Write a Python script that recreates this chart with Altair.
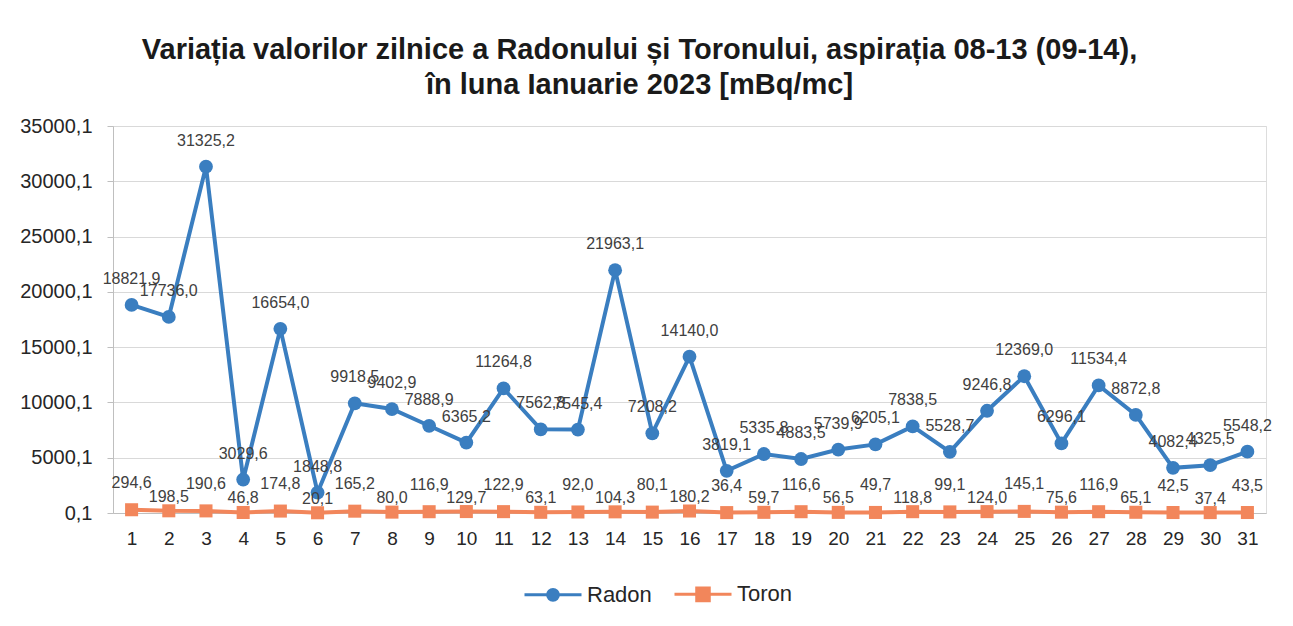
import altair as alt
import pandas as pd

days = list(range(1, 32))
radon = [18821.9, 17736.0, 31325.2, 3029.6, 16654.0, 1848.8, 9918.5, 9402.9, 7888.9, 6365.2,
         11264.8, 7562.8, 7545.4, 21963.1, 7208.2, 14140.0, 3819.1, 5335.8, 4883.5, 5739.9,
         6205.1, 7838.5, 5528.7, 9246.8, 12369.0, 6296.1, 11534.4, 8872.8, 4082.4, 4325.5, 5548.2]
toron = [294.6, 198.5, 190.6, 46.8, 174.8, 20.1, 165.2, 80.0, 116.9, 129.7,
         122.9, 63.1, 92.0, 104.3, 80.1, 180.2, 36.4, 59.7, 116.6, 56.5,
         49.7, 118.8, 99.1, 124.0, 145.1, 75.6, 116.9, 65.1, 42.5, 37.4, 43.5]
series_names = ["Radon", "Toron"]
colors = ["#3A7EC0", "#F2865B"]
y_ticks = [0.1, 5000.1, 10000.1, 15000.1, 20000.1, 25000.1, 30000.1, 35000.1]
title_lines = ["Variația valorilor zilnice a Radonului și Toronului, aspirația 08-13 (09-14),",
               "în luna Ianuarie 2023 [mBq/mc]"]

df = pd.DataFrame({
    "day": days * 2,
    "value": radon + toron,
    "series": ["Radon"] * len(days) + ["Toron"] * len(days),
})

FONT = "Liberation Sans"
fmt = "replace(format(datum.value, '.1f'), '.', ',')"

# legend glyphs: a line with a solid marker drawn from concentric stroked rings
circle_path = ("M-1,0L1,0"
               "M-0.05,0A0.05,0.05 0 1,1 0.05,0A0.05,0.05 0 1,1 -0.05,0Z"
               "M-0.12,0A0.12,0.12 0 1,1 0.12,0A0.12,0.12 0 1,1 -0.12,0Z"
               "M-0.19,0A0.19,0.19 0 1,1 0.19,0A0.19,0.19 0 1,1 -0.19,0Z")
square_path = ("M-1,0L1,0"
               "M-0.06,-0.06L0.06,-0.06L0.06,0.06L-0.06,0.06Z"
               "M-0.14,-0.14L0.14,-0.14L0.14,0.14L-0.14,0.14Z"
               "M-0.22,-0.22L0.22,-0.22L0.22,0.22L-0.22,0.22Z")

base = alt.Chart(df).transform_calculate(label=fmt)

x_enc = alt.X("day:O", title=None,
              axis=alt.Axis(labelAngle=0, labelFontSize=19, labelColor="#262626",
                            labelPadding=16, ticks=False, domainColor="#BFBFBF",
                            labelFont=FONT, grid=False))
y_enc = alt.Y("value:Q", title=None,
              scale=alt.Scale(domain=[0.1, 35000.1], nice=False, zero=False),
              axis=alt.Axis(values=y_ticks, labelExpr=fmt, labelFontSize=20,
                            labelColor="#262626", labelFont=FONT, labelPadding=15,
                            tickSize=6, tickColor="#BFBFBF", domainColor="#BFBFBF",
                            gridColor="#D9D9D9"))
color_enc = alt.Color("series:N", scale=alt.Scale(domain=series_names, range=colors), legend=None)

lines = base.mark_line(strokeWidth=4).encode(x=x_enc, y=y_enc, color=color_enc)

radon_pts = base.transform_filter(alt.datum.series == "Radon").mark_point(
    filled=True, shape="circle", size=190, opacity=1).encode(x="day:O", y="value:Q", color=color_enc)
toron_pts = base.transform_filter(alt.datum.series == "Toron").mark_point(
    filled=True, shape="square", size=170, opacity=1).encode(x="day:O", y="value:Q", color=color_enc)

radon_lbl = base.transform_filter(alt.datum.series == "Radon").mark_text(
    dy=-26, fontSize=16, color="#404040", font=FONT).encode(x="day:O", y="value:Q", text="label:N")
toron_odd = base.transform_filter((alt.datum.series == "Toron") & (alt.datum.day % 2 == 1)).mark_text(
    dy=-27, fontSize=16, color="#404040", font=FONT).encode(x="day:O", y="value:Q", text="label:N")
toron_even = base.transform_filter((alt.datum.series == "Toron") & (alt.datum.day % 2 == 0)).mark_text(
    dy=-14, fontSize=16, color="#404040", font=FONT).encode(x="day:O", y="value:Q", text="label:N")

# legend-only layer (invisible marks); data-driven domains keep it separate from the hidden color legend
legend_layer = base.mark_point(filled=False, opacity=0).encode(
    x="day:O", y="value:Q",
    stroke=alt.Stroke("series:N", scale=alt.Scale(range=colors),
                      legend=alt.Legend(title=None, orient="none", direction="horizontal",
                                        legendX=410, legendY=438, symbolSize=3249,
                                        symbolOpacity=1, symbolStrokeWidth=3,
                                        symbolStrokeColor="#000000",
                                        labelFontSize=22, labelFont=FONT, labelColor="#262626",
                                        labelOffset=4, columnPadding=16)),
    shape=alt.Shape("series:N", scale=alt.Scale(range=[circle_path, square_path])),
)

chart = alt.layer(lines, radon_pts, toron_pts, radon_lbl, toron_odd, toron_even, legend_layer).properties(
    width=1153, height=387,
    title=alt.TitleParams(title_lines, fontSize=29, font=FONT, fontWeight="bold", color="#1a1a1a",
                          anchor="middle", frame="group", dx=-50, offset=16, lineHeight=35),
    padding={"left": 105, "top": 118, "right": 10, "bottom": 105},
    autosize=alt.AutoSizeParams(type="none"),
).configure_view(stroke=None).configure(background="white")

chart.save("out.html", embed_options={"renderer": "svg", "actions": False})
